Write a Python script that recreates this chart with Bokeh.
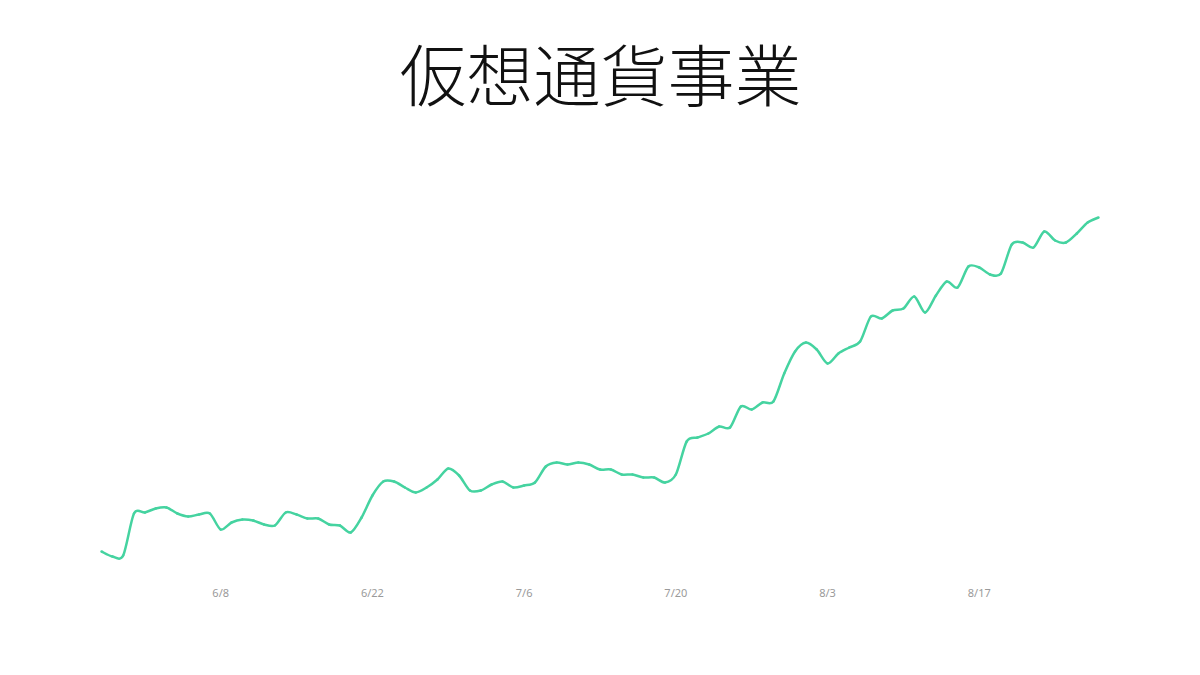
from bokeh.plotting import figure
from bokeh.models import Range1d, FixedTicker
from bokeh.embed import file_html
from bokeh.resources import INLINE
import pandas as pd

title_text = "仮想通貨事業"
start_date = "2018-05-28"
values = [49, 44, 45, 87, 88, 92, 93, 87, 84, 86, 87, 71, 78, 81,
          80, 76, 75, 88, 86, 82, 82, 76, 75, 68, 83, 105, 119,
          119, 113, 108, 113, 121, 132, 125, 110, 110, 116, 119, 113, 115, 118,
          134, 138, 136, 138, 136, 131, 131, 126, 126, 123, 123, 118, 126, 159,
          163, 167, 174, 173, 194, 191, 198, 199, 227, 249, 258, 251, 237, 247,
          253, 259, 284, 282, 290, 292, 304, 288, 305, 319, 313, 334, 333, 326,
          327, 356, 358, 353, 369, 360, 358, 367, 378, 383]
tick_labels = ["6/8", "6/22", "7/6", "7/20", "8/3", "8/17"]

dates = pd.date_range(start_date, periods=len(values), freq="D")
labels_all = [f"{d.month}/{d.day}" for d in dates]
xs = list(range(len(values)))
tick_pos = [labels_all.index(t) for t in tick_labels]

# smooth curve segments through the daily values
k = 1 / 7
n = len(values)
x0s, y0s, x1s, y1s, cx0s, cy0s, cx1s, cy1s = [], [], [], [], [], [], [], []
for i in range(n - 1):
    a = max(i - 1, 0)
    d = min(i + 2, n - 1)
    x0s.append(xs[i]); y0s.append(values[i])
    x1s.append(xs[i + 1]); y1s.append(values[i + 1])
    cx0s.append(xs[i] + (xs[i + 1] - xs[a]) * k)
    cy0s.append(values[i] + (values[i + 1] - values[a]) * k)
    cx1s.append(xs[i + 1] - (xs[d] - xs[i]) * k)
    cy1s.append(values[i + 1] - (values[d] - values[i]) * k)

p = figure(width=1184, height=659, output_backend="svg", toolbar_location=None,
           x_range=Range1d(-3.783, 95.877), y_range=Range1d(19, 460),
           min_border_left=60, min_border_right=44, min_border_top=140,
           min_border_bottom=78)

p.title.text = title_text
p.title.align = "center"
p.title.text_font = "'Noto Sans CJK JP Light', 'Noto Sans CJK JP'"
p.title.text_font_size = "67px"
p.title.text_font_style = "normal"
p.title.text_color = "#111111"
p.title.standoff = 41

p.bezier(x0=x0s, y0=y0s, x1=x1s, y1=y1s, cx0=cx0s, cy0=cy0s, cx1=cx1s, cy1=cy1s,
         line_color="#45d3a0", line_width=2.5, line_cap="round")

p.yaxis.visible = False
p.xgrid.visible = False
p.ygrid.visible = False
p.outline_line_color = None
p.xaxis.axis_line_color = None
p.xaxis.major_tick_line_color = None
p.xaxis.minor_tick_line_color = None
p.xaxis.major_tick_out = 0
p.xaxis.major_label_standoff = 3
p.xaxis.ticker = FixedTicker(ticks=tick_pos)
p.xaxis.major_label_overrides = {pos: lab for pos, lab in zip(tick_pos, tick_labels)}
p.xaxis.major_label_text_color = "#9a9a9a"
p.xaxis.major_label_text_font = "Noto Sans"
p.xaxis.major_label_text_font_size = "11px"

open("out.html", "w").write(file_html(p, INLINE))
